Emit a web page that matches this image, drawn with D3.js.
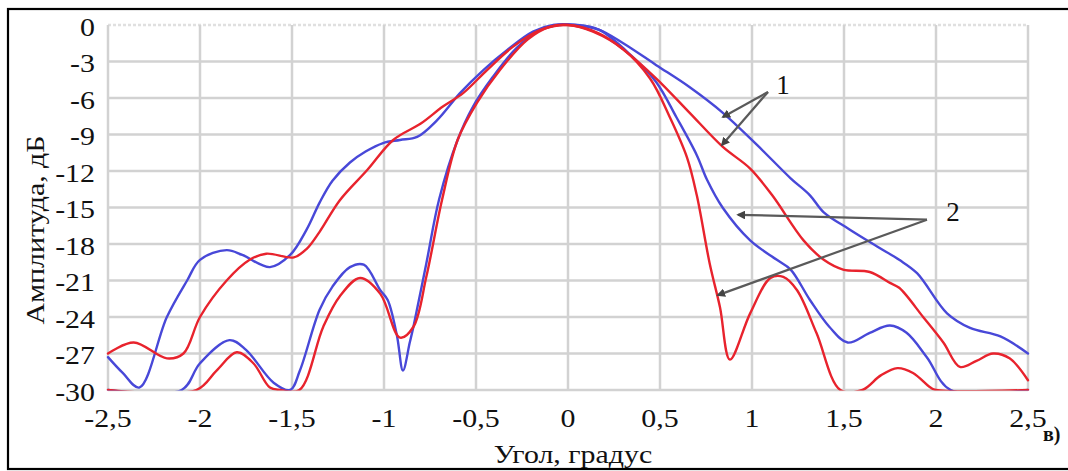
<!DOCTYPE html>
<html><head><meta charset="utf-8">
<script src="https://cdn.jsdelivr.net/npm/d3@7"></script>
<style>
html,body{margin:0;padding:0;background:#fff;}
svg{display:block;}
text{font-family:"Liberation Serif","Times New Roman",serif;fill:#111;}
</style></head>
<body>
<svg id="chart" width="1068" height="471"></svg>
<script>
// ---- data (angle in degrees, amplitude in dB) ----
const xTicks = [-2.5, -2, -1.5, -1, -0.5, 0, 0.5, 1, 1.5, 2, 2.5];
const yTicks = [0, -3, -6, -9, -12, -15, -18, -21, -24, -27, -30];

const blue1X = [-2.5,-2.42,-2.33,-2.18,-2.07,-2.0,-1.855,-1.77,-1.62,-1.51,-1.42,-1.35,-1.28,-1.185,-1.1,-1.005,-0.913,-0.82,-0.71,-0.587,-0.46,-0.33,-0.19,-0.08,0.04,0.17,0.30,0.48,0.66,0.84,1.03,1.21,1.315,1.39,1.53,1.68,1.8,1.897,2.06,2.185,2.35,2.5];
const blue1Y = [-27.3,-28.6,-29.8,-24,-21,-19.3,-18.5,-18.9,-19.9,-18.9,-16.8,-14.6,-12.8,-11.3,-10.4,-9.7,-9.45,-9.2,-7.8,-5.6,-3.7,-2.05,-0.55,0,0,-0.4,-1.5,-3.3,-5.1,-7.2,-9.9,-12.6,-14.0,-15.4,-16.8,-18.2,-19.3,-20.4,-23.7,-24.9,-25.6,-27];

const red1X = [-2.5,-2.36,-2.18,-2.09,-2.0,-1.855,-1.73,-1.64,-1.49,-1.42,-1.35,-1.24,-1.09,-0.95,-0.8,-0.68,-0.57,-0.44,-0.3,-0.15,0,0.17,0.30,0.48,0.66,0.84,0.99,1.11,1.28,1.39,1.495,1.64,1.75,1.8,1.93,2.04,2.13,2.22,2.31,2.4,2.5];
const red1Y = [-27,-26.1,-27.4,-27,-24,-21,-19.3,-18.8,-19.1,-18.4,-17.0,-14.4,-11.9,-9.45,-8.1,-6.7,-5.6,-3.7,-1.8,-0.4,0,-0.7,-2.0,-4.4,-7.2,-10,-11.8,-14.0,-17.7,-19.3,-20.1,-20.3,-21.2,-21.6,-24,-26.1,-28.1,-27.6,-27,-27.4,-29.2];

const blue2X = [-2.5,-2.10,-2.0,-1.84,-1.75,-1.6,-1.51,-1.457,-1.35,-1.28,-1.185,-1.11,-1.02,-0.98,-0.93,-0.897,-0.86,-0.84,-0.77,-0.70,-0.60,-0.516,-0.41,-0.28,-0.15,-0.05,0.05,0.17,0.35,0.48,0.59,0.70,0.755,0.84,0.99,1.135,1.21,1.315,1.42,1.52,1.64,1.75,1.84,1.95,2.08,2.5];
const blue2Y = [-30,-30,-27.8,-25.9,-26.7,-29.4,-30,-28.4,-23.4,-21.5,-19.9,-19.7,-21.8,-22.6,-25.5,-28.4,-26.1,-24.8,-19.6,-14.3,-9.45,-6.7,-4.3,-1.9,-0.4,0,0,-0.4,-2.6,-4.7,-7.6,-10.7,-12.7,-15,-17.7,-19.3,-20.1,-22.6,-24.8,-26.1,-25.3,-24.7,-25.3,-27.3,-30,-30];

const red2X = [-2.5,-2.02,-1.91,-1.80,-1.71,-1.62,-1.565,-1.46,-1.33,-1.24,-1.13,-1.02,-0.913,-0.84,-0.77,-0.685,-0.60,-0.495,-0.37,-0.22,-0.1,0,0.136,0.30,0.446,0.554,0.647,0.70,0.77,0.826,0.88,0.99,1.10,1.17,1.245,1.35,1.48,1.6,1.7,1.79,1.875,1.97,2.0,2.5];
const red2Y = [-30,-30,-28.4,-26.9,-27.8,-29.8,-30,-30,-24.8,-22.3,-20.8,-22.1,-25.7,-24.8,-20.7,-14.4,-9.45,-6.4,-3.7,-1.2,-0.15,0,-0.55,-2.0,-4.4,-7.6,-10.9,-14.0,-19.6,-23.2,-27.5,-23.7,-20.8,-20.7,-21.8,-25.3,-30,-30,-28.8,-28.2,-28.6,-29.8,-30,-30];

// annotation labels and arrow anchor points (data coords)
const annotLabels = ["1", "2"];
const annotText = [[1.168, -4.93], [2.092, -15.4]];
const annotArrows = [
  [[1.087, -5.5], [0.842, -7.56]],
  [[1.087, -5.5], [0.837, -9.86]],
  [[1.951, -16.0], [0.924, -15.6]],
  [[1.951, -16.0], [0.815, -22.2]]
];

const xTitle = "Угол, градус";
const yTitle = "Амплитуда, дБ";
const panelTag = "в)";

// ---- drawing ----
const svg = d3.select("#chart");
const pL = 108, pR = 1028, pT = 25, pB = 390;
const x = d3.scaleLinear().domain([-2.5, 2.5]).range([pL, pR]);
const y = d3.scaleLinear().domain([-30, 0]).range([pB, pT]);
const fmt = d => String(d).replace(".", ",");
const SX = 1.15;

// frame
svg.append("rect").attr("x", 8).attr("y", 9).attr("width", 1080).attr("height", 460)
  .attr("fill", "none").attr("stroke", "#000").attr("stroke-width", 2.2);

// grid
const grid = svg.append("g");
grid.selectAll("line.h").data(yTicks).join("line")
  .attr("x1", pL).attr("x2", pR)
  .attr("y1", d => y(d)).attr("y2", d => y(d))
  .attr("stroke", d => d === 0 ? "#e0e0e0" : "#d2d2d2")
  .attr("stroke-width", 2.5)
  .attr("stroke-dasharray", d => d === 0 ? "3,2" : null);
grid.selectAll("line.v").data(xTicks).join("line")
  .attr("y1", pT).attr("y2", pB)
  .attr("x1", d => x(d)).attr("x2", d => x(d))
  .attr("stroke", "#d2d2d2").attr("stroke-width", 2.5);

// y tick labels
svg.append("g").selectAll("g").data(yTicks).join("g")
  .attr("transform", d => `translate(95,${y(d) + 2})`)
  .append("text").attr("transform", `scale(${SX},1)`)
  .attr("text-anchor", "end").attr("dominant-baseline", "central")
  .attr("font-size", 26).text(fmt);

// x tick labels
svg.append("g").selectAll("g").data(xTicks).join("g")
  .attr("transform", d => `translate(${x(d)},427)`)
  .append("text").attr("transform", `scale(${SX},1)`)
  .attr("text-anchor", "middle").attr("font-size", 26).text(fmt);

// panel tag
svg.append("text").attr("x", 1043).attr("y", 441).attr("font-size", 20)
  .attr("font-weight", "bold").text(panelTag);

// axis titles
svg.append("g").attr("transform", "translate(573,463)")
  .append("text").attr("transform", `scale(${SX},1)`)
  .attr("text-anchor", "middle").attr("font-size", 26).text(xTitle);
svg.append("g").attr("transform", "translate(44,230) rotate(-90)")
  .append("text").attr("transform", `scale(${SX},1)`)
  .attr("text-anchor", "middle").attr("font-size", 26).text(yTitle);

// curves
svg.append("defs").append("clipPath").attr("id", "clip")
  .append("rect").attr("x", pL - 2).attr("y", 0).attr("width", pR - pL + 4).attr("height", pB + 0.5);

const line = d3.line().x(d => x(d[0])).y(d => y(d[1])).curve(d3.curveCatmullRom.alpha(0.5));
const zip = (a, b) => a.map((v, i) => [v, b[i]]);
const series = [
  {xs: blue1X, ys: blue1Y, c: "#4848d8"},
  {xs: blue2X, ys: blue2Y, c: "#4848d8"},
  {xs: red1X, ys: red1Y, c: "#e8232d"},
  {xs: red2X, ys: red2Y, c: "#e8232d"}
];
const cg = svg.append("g").attr("clip-path", "url(#clip)");
series.forEach(s => {
  cg.append("path").attr("d", line(zip(s.xs, s.ys)))
    .attr("fill", "none").attr("stroke", s.c).attr("stroke-width", 2.4)
    .attr("stroke-linejoin", "round").attr("stroke-linecap", "round");
});

// annotations
svg.select("defs").append("marker").attr("id", "ah").attr("viewBox", "0 0 10 10")
  .attr("refX", 8).attr("refY", 5).attr("markerWidth", 4).attr("markerHeight", 4)
  .attr("orient", "auto").append("path").attr("d", "M0,0 L10,5 L0,10 z").attr("fill", "#444");
svg.append("g").selectAll("line").data(annotArrows).join("line")
  .attr("x1", d => x(d[0][0])).attr("y1", d => y(d[0][1]))
  .attr("x2", d => x(d[1][0])).attr("y2", d => y(d[1][1]))
  .attr("stroke", "#5a5a5a").attr("stroke-width", 2.2).attr("marker-end", "url(#ah)");
svg.append("g").selectAll("text").data(annotLabels).join("text")
  .attr("x", (d, i) => x(annotText[i][0])).attr("y", (d, i) => y(annotText[i][1]))
  .attr("text-anchor", "middle").attr("dominant-baseline", "central")
  .attr("font-size", 27).text(d => d);
</script>
</body></html>
